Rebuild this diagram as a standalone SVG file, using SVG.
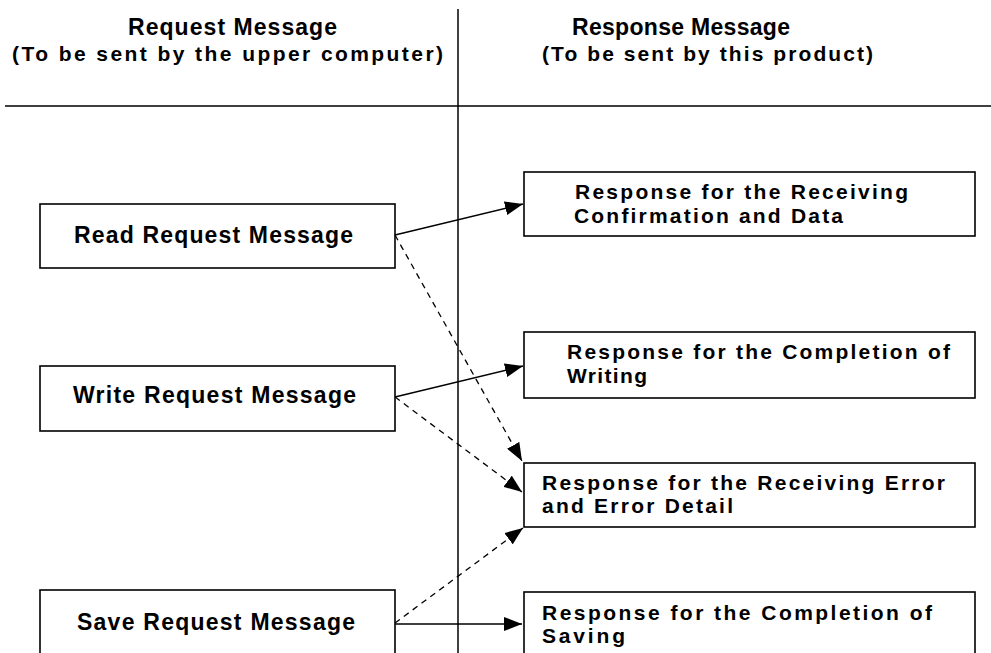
<svg xmlns="http://www.w3.org/2000/svg" width="991" height="653" viewBox="0 0 991 653">
<style>
text{font-family:"Liberation Sans",Arial,sans-serif;font-weight:bold;fill:#000}
.big{font-size:23px}
.sm{font-size:21px}
.box{fill:#fff;stroke:#000;stroke-width:1.6}
.rule{stroke:#000;stroke-width:1.5;fill:none}
.solid{stroke:#000;stroke-width:1.5;fill:none;marker-end:url(#ah)}
.dash{stroke:#000;stroke-width:1.3;fill:none;stroke-dasharray:6 5;marker-end:url(#ah)}
</style>
<defs>
<marker id="ah" markerUnits="userSpaceOnUse" markerWidth="19" markerHeight="14" refX="18" refY="7" orient="auto">
<path d="M0,0 L18,7 L0,14 Z" fill="#000"/>
</marker>
</defs>
<rect width="991" height="653" fill="#fff"/>
<g id="headers">
<text class="big" x="128" y="35" textLength="209" lengthAdjust="spacing">Request Message</text>
<text class="sm" x="12" y="61" textLength="431" lengthAdjust="spacing">(To be sent by the upper computer)</text>
<text class="big" x="572" y="35" textLength="218" lengthAdjust="spacing">Response Message</text>
<text class="sm" x="542" y="61" textLength="331" lengthAdjust="spacing">(To be sent by this product)</text>
</g>
<g id="rules">
<line class="rule" x1="5" y1="106" x2="991" y2="106"/>
<line class="rule" x1="458" y1="9" x2="458" y2="653"/>
</g>
<g id="read">
<rect class="box" x="40" y="204" width="355" height="64"/>
<text class="big" x="74" y="243" textLength="279" lengthAdjust="spacing">Read Request Message</text>
</g>
<g id="write">
<rect class="box" x="40" y="366" width="355" height="65"/>
<text class="big" x="73" y="403" textLength="283" lengthAdjust="spacing">Write Request Message</text>
</g>
<g id="save">
<rect class="box" x="40" y="590" width="355" height="80"/>
<text class="big" x="77" y="630" textLength="278" lengthAdjust="spacing">Save Request Message</text>
</g>
<g id="resp-data">
<rect class="box" x="524" y="172" width="451" height="64"/>
<text class="sm" x="575" y="199" textLength="333" lengthAdjust="spacing">Response for the Receiving</text>
<text class="sm" x="574" y="223" textLength="269" lengthAdjust="spacing">Confirmation and Data</text>
</g>
<g id="resp-write">
<rect class="box" x="524" y="332" width="451" height="66"/>
<text class="sm" x="567" y="359" textLength="383" lengthAdjust="spacing">Response for the Completion of</text>
<text class="sm" x="567" y="383" textLength="80" lengthAdjust="spacing">Writing</text>
</g>
<g id="resp-error">
<rect class="box" x="524" y="463" width="451" height="64"/>
<text class="sm" x="542" y="490" textLength="403" lengthAdjust="spacing">Response for the Receiving Error</text>
<text class="sm" x="542" y="513" textLength="191" lengthAdjust="spacing">and Error Detail</text>
</g>
<g id="resp-save">
<rect class="box" x="524" y="592" width="451" height="80"/>
<text class="sm" x="542" y="620" textLength="390" lengthAdjust="spacing">Response for the Completion of</text>
<text class="sm" x="542" y="643" textLength="83" lengthAdjust="spacing">Saving</text>
</g>
<g id="connectors">
<line class="solid" x1="395" y1="235" x2="523" y2="204"/>
<line class="dash" x1="395" y1="235" x2="522" y2="461"/>
<line class="solid" x1="395" y1="397" x2="523" y2="366"/>
<line class="dash" x1="395" y1="397" x2="522" y2="492"/>
<line class="dash" x1="395" y1="623" x2="523" y2="528"/>
<line class="solid" x1="395" y1="624" x2="522" y2="624"/>
</g>
</svg>
